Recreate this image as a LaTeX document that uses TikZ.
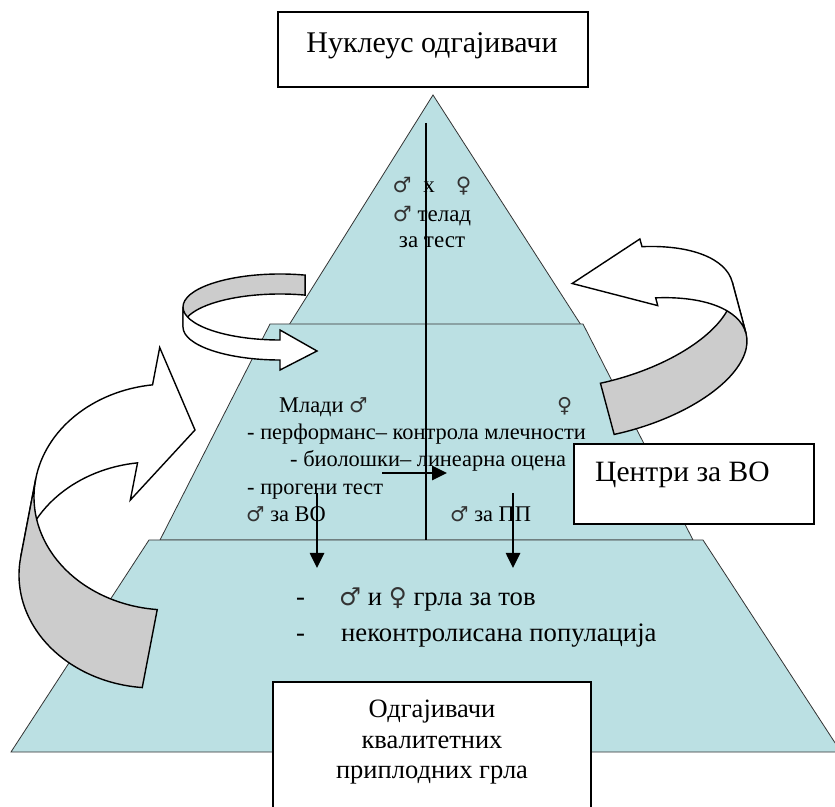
\documentclass[tikz,border=0pt]{standalone}
\usepackage{fontspec}
\setmainfont{Liberation Serif}
\newfontfamily\gendersym{DejaVu Sans}
\usepackage{tikz}
\usetikzlibrary{arrows.meta,positioning,calc}
\definecolor{layerfill}{RGB}{187,224,227}
\definecolor{backgrey}{RGB}{204,204,204}
\newcommand{\marssym}{{\gendersym\color{black!80}\scalebox{0.92}{♂}}}
\newcommand{\venussym}{{\gendersym\color{black!80}\scalebox{0.92}{♀}}}
\tikzset{
  layer/.style={fill=layerfill,draw=black!80,line width=0.8pt},
  frontband/.style={fill=white,draw=black,line width=1.4pt},
  backband/.style={fill=backgrey,draw=black,line width=1.4pt},
  labelbox/.style={draw=black,fill=white,line width=1.3pt,inner sep=0pt},
  titletext/.style={font=\fontsize{30}{34}\selectfont,inner sep=0pt},
  sidetext/.style={font=\fontsize{29.5}{34}\selectfont,inner sep=0pt},
  basetext/.style={font=\fontsize{26.5}{30}\selectfont,inner sep=0pt,anchor=base},
  toptext/.style={font=\fontsize{23}{27}\selectfont,inner sep=0pt,anchor=base},
  midtext/.style={font=\fontsize{22.4}{27}\selectfont,inner sep=0pt,anchor=base west},
  lowtext/.style={font=\fontsize{26.7}{30}\selectfont,inner sep=0pt,anchor=base west},
  flowarrow/.style={-{Triangle[length=15pt,width=14pt]},line width=2.6pt},
  splitline/.style={line width=2.4pt}
}
\begin{document}
\begin{tikzpicture}[x=1pt,y=1pt]
  \useasboundingbox (0,0) rectangle (835,806);
  \draw[layer] (433,711) -- (581,481) -- (289,481) -- cycle;
  \draw[layer] (270,482) -- (583,482) -- (693,266) -- (160,266) -- cycle;
  \draw[layer] (149,266) -- (703,266) -- (841,54) -- (11,54) -- cycle;

  \coordinate (axistop) at (426,683);
  \coordinate (axisbottom) at (426,266);
  \draw[splitline] (axistop) -- (axisbottom);

  \node[toptext] (cross) at (432,613) {\marssym\hspace{12pt}x\hspace{21pt}\venussym};
  \node[toptext] (calves) at (432,584) {\marssym\ телад};
  \node[toptext] (calftest) at (432,558) {за тест};

  \node[midtext] (young) at (279,393) {Млади \marssym};
  \node[midtext] (female) at (557,393) {\venussym};
  \node[midtext] (perform) at (247,366) {- перформанс– контрола млечности};
  \node[midtext] (biology) at (290,339) {- биолошки– линеарна оцена};
  \node[midtext] (progeny) at (247,311) {- прогени тест};
  \node[midtext] (bullsai) at (246,284) {\marssym\ за ВО};
  \node[midtext] (bullsnm) at (450,284) {\marssym\ за ПП};

  \node[lowtext] (dashone) at (296,200) {-};
  \node[lowtext] (fattening) at (339,200) {\marssym\ и \venussym\ грла за тов};
  \node[lowtext] (dashtwo) at (296,164) {-};
  \node[lowtext] (uncontrolled) at (341,164) {неконтролисана популација};

  \coordinate (crossstart) at (382,333);
  \coordinate (crossend) at (447,333);
  \coordinate (leftstart) at (317,313);
  \coordinate (leftend) at (317,238);
  \coordinate (rightstart) at (513,313);
  \coordinate (rightend) at (513,238);
  \draw[flowarrow] (crossstart) -- (crossend);
  \draw[flowarrow] (leftstart) -- (leftend);
  \draw[flowarrow] (rightstart) -- (rightend);

  \node[labelbox,minimum width=310pt,minimum height=75pt] (topbox) at (433,756.5) {};
  \node[titletext,anchor=base] (toptitle) at (432,753) {Нуклеус одгајивачи};
  \node[labelbox,minimum width=240pt,minimum height=80pt] (sidebox) at (694,322) {};
  \node[sidetext,anchor=base west] (sidetitle) at (595,324) {Центри за ВО};
  \node[labelbox,minimum width=318pt,minimum height=134pt] (basebox) at (432,57) {};
  \node[basetext] (basetitleone) at (432,89) {Одгајивачи};
  \node[basetext] (basetitletwo) at (432,58) {квалитетних};
  \node[basetext] (basetitlethree) at (432,28) {приплодних грла};

  \begin{scope}[shift={(280,499)}]
    \filldraw[backband] (75:97 and 33) arc[start angle=75,end angle=180,x radius=97,y radius=33]
      -- ++(0,-20) arc[start angle=180,end angle=75,x radius=97,y radius=33] -- cycle;
    \filldraw[frontband] (180:97 and 33) arc[start angle=180,end angle=270,x radius=97,y radius=33]
      -- (0,-23) -- (37,-44) -- (0,-63) -- (0,-53)
      arc[start angle=270,end angle=180,x radius=97,y radius=33] -- cycle;
  \end{scope}

  \begin{scope}[shift={(169,309)}]
    \filldraw[frontband] (97:135 and 113) arc[start angle=97,end angle=171,x radius=135,y radius=113]
      -- ++(-15,-78) arc[start angle=171,end angle=97,x radius=135,y radius=113]
      -- (-38.7,-3.1) -- (26,67) -- (-9.3,149.5) -- cycle;
    \filldraw[backband] (171:135 and 113) arc[start angle=171,end angle=265,x radius=135,y radius=113]
      -- ++(-15,-78) arc[start angle=265,end angle=171,x radius=135,y radius=113] -- cycle;
  \end{scope}

  \begin{scope}[shift={(598,488)},rotate=15]
    \filldraw[backband] (0:139 and 64) arc[start angle=0,end angle=-96,x radius=139,y radius=64]
      -- ++(0,-53) arc[start angle=-96,end angle=0,x radius=139,y radius=64] -- cycle;
    \filldraw[frontband] (64:139 and 64) arc[start angle=64,end angle=0,x radius=139,y radius=64]
      -- ++(0,-53) arc[start angle=0,end angle=64,x radius=139,y radius=64]
      -- (60.9,-3.5) -- (-16,40) -- (60.9,65.5) -- cycle;
  \end{scope}
\end{tikzpicture}
\end{document}
